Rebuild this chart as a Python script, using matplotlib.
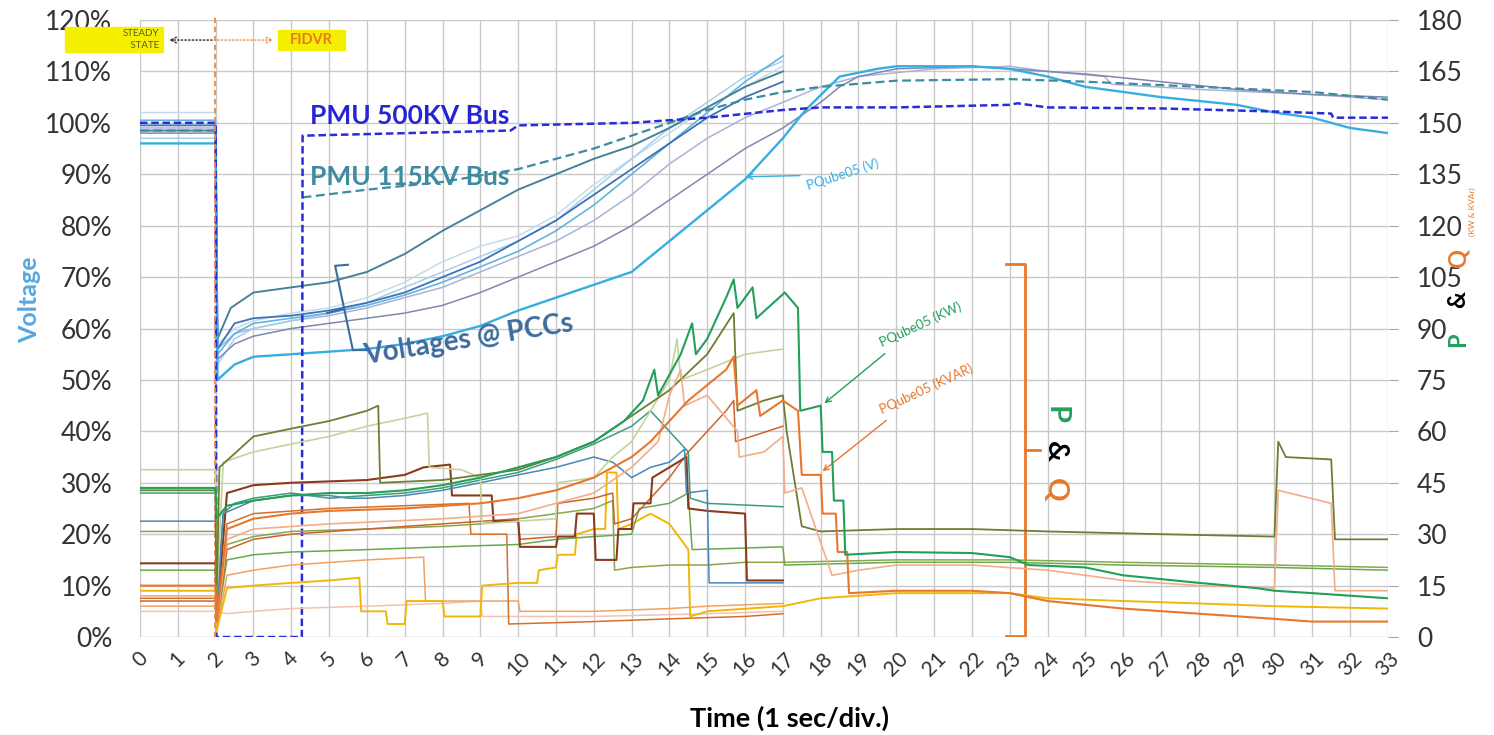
import matplotlib.pyplot as plt
from matplotlib.patches import Rectangle

plt.rcParams['font.family'] = ['Lato', 'DejaVu Sans']

# ---- time axis (1 sec / div) ----
time_ticks = list(range(34))

# ---- voltages, % of nominal (left axis) ----
pmu_500kv = [(0, 100), (2, 100), (2.02, 0), (4.28, 0), (4.3, 97.5), (9.8, 98.5), (10, 99.5), (13, 100),
             (15, 101), (17, 102.5), (18, 103), (20, 103), (23, 103.5), (23.2, 103.8), (24, 103),
             (27, 102.8), (30, 102.2), (31.5, 101.8), (31.55, 101), (33, 101)]
pmu_115kv = [(0, 98.5), (2, 98.5), (2.02, float('nan')), (4.3, 85.5), (6, 87), (8, 88.5), (10, 91),
             (11, 93), (12, 95), (13, 97.5), (14, 100), (15, 102.5), (16, 104.5), (17, 106), (18, 107),
             (20, 108.2), (23, 108.5), (25, 108), (28, 107), (31, 106), (33, 104.5)]
pcc_v1 = [(0, 98.5), (2, 98.5), (2.05, 58), (2.4, 64), (3, 67), (4, 68), (5, 69), (6, 71), (7, 74.5),
          (8, 79), (9, 83), (10, 87), (11, 90), (12, 93), (13, 95.5), (14, 99), (15, 103), (16, 107), (17, 110)]
pcc_v2 = [(0, 99.5), (2, 99.5), (2.05, 56), (2.5, 61), (3, 62), (4, 62.5), (5, 63.5), (6, 65), (7, 67),
          (8, 70), (9, 73), (10, 77), (11, 81), (12, 86), (13, 91), (14, 96), (15, 101), (16, 105), (17, 108)]
pcc_v3 = [(0, 97), (2, 97), (2.05, 53), (2.5, 58), (3, 60), (4, 61.5), (5, 63), (6, 65), (7, 68), (8, 71),
          (9, 74), (10, 77), (11, 81), (12, 87), (13, 93), (14, 99), (15, 104), (16, 109), (17, 112)]
pcc_v4 = [(0, 100.5), (2, 100.5), (2.05, 55), (2.5, 59), (3, 61), (4, 62), (5, 63), (6, 64.5), (7, 66.5),
          (8, 69), (9, 72), (10, 75), (11, 79), (12, 84), (13, 90), (14, 96), (15, 102), (16, 108), (17, 113)]
pcc_v5 = [(0, 102), (2, 102), (2.05, 57), (2.5, 60), (3, 61.5), (4, 63), (5, 64), (6, 66), (7, 69), (8, 73),
          (9, 76), (10, 78), (11, 82), (12, 88), (13, 93), (14, 98), (15, 103), (16, 107), (17, 111)]
pcc_v6 = [(0, 98), (2, 98), (2.05, 54), (2.5, 57), (3, 58.5), (4, 60), (5, 61), (6, 62), (7, 63), (8, 64.5),
          (9, 67), (10, 70), (11, 73), (12, 76), (13, 80), (14, 85), (15, 90), (16, 95), (17, 99), (18, 104),
          (18.5, 107), (19, 109), (20, 110.5), (22, 111), (23, 110.5), (25, 109.5), (27, 108), (29, 106.5),
          (31, 105.5), (33, 105)]
pcc_v7 = [(0, 99), (2, 99), (2.05, 56), (2.5, 59), (3, 60), (4, 61.5), (5, 62.5), (6, 64), (7, 66), (8, 68),
          (9, 71), (10, 74), (11, 77), (12, 81), (13, 86), (14, 92), (15, 97), (16, 101), (17, 104), (18, 107),
          (19, 109), (21, 110.5), (23, 111), (24, 110), (25.5, 109), (25.7, 107.5), (28, 106.5), (31, 105.5),
          (33, 104.5)]
pqube05_v = [(0, 96), (2, 96), (2.05, 50), (2.5, 53), (3, 54.5), (4, 55), (5, 55.5), (6, 56), (7, 57),
             (8, 58.5), (9, 60.5), (10, 63.5), (11, 66), (12, 68.5), (13, 71), (14, 77), (15, 83), (16, 89),
             (17, 97), (17.6, 102.5), (18.5, 109), (19.5, 110.5), (20, 111), (22, 111), (23, 110.5), (24, 109),
             (25, 107), (27, 105), (29, 103.5), (30, 102), (31, 101), (32, 99), (33, 98)]

# ---- P & Q, kW / kVAR (right axis) ----
pqube05_kw = [(0, 43.5), (2, 43.5), (2.02, 34.5), (2.3, 38.3), (3, 39.8), (4, 41.3), (5, 42), (6, 42),
              (7, 42.8), (8, 44.3), (9, 46.5), (10, 49.5), (11, 52.5), (12, 57), (12.8, 63), (13.3, 69),
              (13.6, 78), (13.7, 70.5), (14.3, 82.5), (14.6, 91.5), (14.7, 82.5), (15, 87), (15.5, 99),
              (15.7, 104.3), (15.8, 96), (16.2, 102), (16.3, 93), (16.9, 99), (17.05, 100.5), (17.4, 96),
              (17.46, 66), (18, 67.5), (18.05, 54), (18.3, 54), (18.35, 39.8), (18.6, 39.8), (18.65, 24),
              (20, 24.8), (22, 24.5), (23, 23.3), (23.5, 21), (25, 20.3), (26, 18), (28, 15.8), (29.5, 14.3),
              (30, 13.5), (31, 12.8), (33, 11.3)]
pqube05_kvar = [(0, 15), (2, 15), (2.02, 4.5), (2.3, 31.5), (3, 34.5), (4, 36), (5, 36.8), (7, 37.5),
                (9, 39), (10, 40.5), (11, 42.8), (12, 46.5), (13, 52.5), (13.5, 57), (14, 63), (14.5, 69),
                (15, 73.5), (15.5, 78), (15.7, 81.8), (15.8, 67.5), (16.3, 72), (16.4, 64.5), (17, 69),
                (17.4, 66), (17.5, 47.3), (18, 47.3), (18.05, 36), (18.4, 36), (18.45, 24.8), (18.7, 24.8),
                (18.75, 12.8), (20, 13.5), (22, 13.5), (23, 12.8), (24, 10.5), (26, 8.3), (28, 6.8),
                (30, 5.3), (31, 4.5), (33, 4.5)]
q_salmon = [(0, 12), (2, 12), (2.02, 3), (2.3, 28.5), (3, 31.5), (5, 33), (8, 34.5), (10, 36), (12, 42),
            (13, 49.5), (13.7, 57), (14, 70.5), (14.3, 78), (14.4, 67.5), (15, 70.5), (15.8, 60), (15.85, 52.5),
            (16.5, 54), (17, 58.5), (17.05, 42), (17.5, 43.5), (18.3, 18), (19, 19.5), (20, 21), (22, 21),
            (24, 19.5), (26, 16.5), (28, 15), (30, 14.3), (30.1, 42.8), (31.5, 39), (31.6, 13.5), (33, 13.5)]
p_olive_dark = [(0, 42.8), (2, 42.8), (2.02, 7.5), (2.1, 49.5), (3, 58.5), (4, 60.8), (5, 63), (6, 66),
                (6.3, 67.5), (6.35, 45), (8, 45.8), (10, 48.8), (11, 52.5), (12, 57), (13, 64.5), (14, 72),
                (15, 82.5), (15.7, 94.5), (15.8, 66), (16.5, 69), (17, 70.5), (17.1, 60), (17.5, 32.3),
                (18, 30.8), (20, 31.5), (22, 31.5), (24, 30.8), (27, 30), (30, 29.3), (30.1, 57), (30.3, 52.5),
                (31.5, 51.8), (31.6, 28.5), (33, 28.5)]
p_olive_light = [(0, 48.8), (2, 48.8), (2.02, 9), (2.2, 51), (3, 54), (4, 56.3), (5, 58.5), (6, 61.5),
                 (7, 63.8), (7.6, 65.3), (7.65, 49.5), (8.5, 48.8), (9, 46.5), (9.05, 33), (10, 33.8),
                 (11, 34.5), (11.05, 45), (12, 46.5), (12.5, 52.5), (13, 57), (13.5, 66), (14, 75), (14.2, 87),
                 (14.3, 75), (15, 78), (16, 82.5), (17, 84)]
p_steel = [(0, 33.8), (2, 33.8), (2.02, 4.5), (2.2, 36), (3, 39.8), (4, 41.3), (5, 41.3), (5.5, 40.5),
           (6, 40.5), (7, 41.3), (8, 42.8), (9, 45), (10, 47.3), (11, 49.5), (12, 52.5), (12.5, 51), (13, 46.5),
           (13.5, 49.5), (14, 51), (14.4, 54.8), (14.45, 42), (15, 42.8), (15.05, 15.8), (17, 15.8)]
p_teal = [(0, 42), (2, 42), (2.02, 6), (2.2, 36), (2.5, 39), (3, 40.5), (4, 42), (5, 40.5), (6, 41.3),
          (7, 42), (8, 43.5), (9, 45.8), (10, 48), (11, 51.8), (12, 56.3), (13, 61.5), (13.5, 66), (14, 60),
          (14.5, 54), (14.55, 40.5), (15, 39), (17, 38)]
q_brown = [(0, 21.5), (2, 21.5), (2.02, 4.5), (2.3, 42), (3, 44.3), (4, 45), (6, 45.8), (7, 47.3),
           (7.5, 49.5), (8.2, 50.3), (8.25, 41.3), (9.3, 41.3), (9.35, 33.8), (10, 33.8), (10.05, 26.3),
           (11, 26.3), (11.05, 29.3), (11.5, 29.3), (11.55, 36), (12, 36), (12.05, 22.5), (12.6, 22.5),
           (12.65, 31.5), (13, 31.5), (13.05, 39), (13.5, 39), (13.55, 46.5), (14, 49.5), (14.45, 52.5),
           (14.5, 37.5), (15, 36.8), (16, 36), (16.05, 16.5), (17, 16.5)]
q_rust = [(0, 10.5), (2, 10.5), (2.02, 3), (2.3, 25.5), (3, 28.5), (4, 30), (6, 31.5), (8, 33), (10, 34.5),
          (10.05, 28.5), (11, 29.3), (11.05, 39), (12, 40.5), (12.5, 42), (12.55, 33), (13, 34.5),
          (13.5, 40.5), (14, 46.5), (14.5, 54), (15, 60), (15.5, 66), (15.7, 69), (15.75, 57), (17, 61.5)]
q_orange_step = [(0, 11.3), (2, 11.3), (2.02, 1.5), (2.3, 33), (3, 36), (5, 37.5), (7, 38.3), (8.7, 39),
                 (8.75, 30), (9.7, 30), (9.75, 3.8), (12, 4.5), (14, 5.3), (16, 6), (17, 6.8)]
p_green_mid = [(0, 30.8), (2, 30.8), (2.02, 3), (2.3, 27), (3, 29.3), (4, 30.8), (6, 31.5), (8, 32.3),
               (9, 33), (10, 34.5), (11, 36), (12, 37.5), (12.5, 39.8), (12.55, 19.5), (13, 20.3), (14, 21),
               (15, 21), (16, 21.8), (17, 21.8), (20, 22.5), (23, 22.5), (26, 21.8), (30, 21), (33, 20.3)]
p_green_low = [(0, 19.5), (2, 19.5), (2.02, 3), (2.3, 22.5), (3, 24), (4, 24.8), (6, 25.5), (8, 26.3),
               (10, 27), (11, 28.5), (12, 29.3), (13, 30), (13.2, 37.5), (14, 39), (14.5, 42), (14.6, 25.5),
               (17, 26.3), (17.05, 21), (20, 21.8), (23, 21.8), (26, 21), (30, 20.3), (33, 19.5)]
q_yellow = [(0, 13.5), (2, 13.5), (2.02, 1.5), (2.3, 14.3), (3, 15), (4, 15.8), (5, 16.5), (5.8, 17.3),
            (5.85, 7.5), (6.5, 7.5), (6.55, 3.8), (7, 3.8), (7.05, 10.5), (8, 10.5), (8.05, 6), (9, 6),
            (9.05, 15), (10, 15.8), (10.5, 15.8), (10.55, 19.5), (11, 20.3), (11.05, 24), (11.5, 24),
            (11.55, 30), (12, 31.5), (12.3, 31.5), (12.35, 48), (12.6, 48), (12.65, 31.5), (13, 33),
            (13.5, 36), (14, 33), (14.5, 25.5), (14.55, 6), (15, 7.5), (17, 9), (18, 11.3), (20, 12.8),
            (23, 12.8), (24, 11.3), (26, 10.5), (28, 9.8), (30, 9), (33, 8.3)]
q_light_orange = [(0, 9), (2, 9), (2.02, 1.5), (2.3, 18), (3, 19.5), (4, 21), (6, 22.5), (7.5, 23.3),
                  (7.55, 10.5), (10, 10.5), (10.05, 7.5), (12, 7.5), (14, 8.3), (15, 9), (17, 9.8)]
q_pale_pink = [(0, 7.5), (2, 7.5), (2.3, 6.8), (3, 7.5), (4, 8.3), (6, 9), (8, 9.8), (9, 10.5),
               (9.05, 6), (12, 6), (15, 6.8), (17, 7.5)]

fig, ax = plt.subplots(figsize=(14.94, 7.35), dpi=100)
fig.subplots_adjust(left=0.0937, right=0.929, bottom=0.1333, top=0.9728)
ax2 = ax.twinx()


def draw(axis, pairs, color, lw=1.2, ls='-', z=2):
    t, v = zip(*pairs)
    axis.plot(t, v, color=color, lw=lw, ls=ls, zorder=z)


# P & Q traces
for pairs, col, lw in [
    (q_pale_pink, '#f2c2b2', 1.1), (q_light_orange, '#efa263', 1.1), (q_orange_step, '#d4702e', 1.1),
    (q_yellow, '#f2b705', 1.4), (p_green_low, '#6aa84f', 1.1), (p_green_mid, '#8aa64a', 1.1),
    (q_rust, '#c9652c', 1.1), (q_brown, '#8a3b1e', 1.5), (p_teal, '#3c9c7c', 1.1),
    (p_steel, '#4a86b8', 1.1), (p_olive_light, '#c5d49c', 1.2), (p_olive_dark, '#6e7d34', 1.3),
    (q_salmon, '#f3ad88', 1.2), (pqube05_kvar, '#e8772e', 1.5), (pqube05_kw, '#22a05a', 1.5),
]:
    draw(ax2, pairs, col, lw)

# voltage traces
for pairs, col, lw in [
    (pcc_v5, '#c3dbee', 1.1), (pcc_v7, '#aab3d4', 1.1), (pcc_v3, '#a4d0ee', 1.1), (pcc_v4, '#62b4e0', 1.2),
    (pcc_v6, '#7f88ae', 1.1), (pcc_v2, '#3f72b5', 1.3), (pcc_v1, '#46829a', 1.4), (pqube05_v, '#36aee2', 1.7),
]:
    draw(ax, pairs, col, lw)
draw(ax, pmu_115kv, '#3c8ba0', 1.6, (0, (4, 2)), 3)
draw(ax, pmu_500kv, '#2b2bd9', 1.8, (0, (3, 1.5)), 3)

# axes styling
ax.set_xlim(0, 33)
ax.set_ylim(0, 120)
ax2.set_ylim(0, 180)
ax.set_xticks(time_ticks)
ax.set_xticklabels([str(t) for t in time_ticks], rotation=45, ha='center', fontsize=15, color='#333333')
ax.set_yticks(range(0, 121, 10))
ax.set_yticklabels([f'{v}%' for v in range(0, 121, 10)], fontsize=19, color='#333333')
ax2.set_yticks(range(0, 181, 15))
ax2.set_yticklabels([str(v) for v in range(0, 181, 15)], fontsize=19, color='#333333')
ax.tick_params(axis='y', length=0, pad=20)
ax.tick_params(axis='x', length=0, pad=8)
ax2.tick_params(axis='y', length=7, color='#aaaaaa', pad=14)
ax.grid(color='#c8c8c8', lw=1)
ax.set_axisbelow(True)
for a in (ax, ax2):
    for s in a.spines.values():
        s.set_visible(False)

# event markers
ax.plot([1.98, 1.98], [0, 121], color='#ef8a3c', lw=1.3, ls=(0, (3, 2)), clip_on=False, zorder=4)
ax.add_patch(Rectangle((-1.98, 113.8), 2.59, 4.9, color='#f5f000', clip_on=False, zorder=5))
ax.text(0.5, 116.2, 'STEADY\n   STATE', fontsize=7, ha='right', va='center', color='#5a5a30',
        linespacing=1.3, zorder=6, clip_on=False)
ax.add_patch(Rectangle((3.65, 114.2), 1.77, 3.9, color='#f5f000', clip_on=False, zorder=5))
ax.text(4.53, 116.1, 'FIDVR', fontsize=10.5, fontweight='bold', ha='center', va='center', color='#e8781e',
        zorder=6)
ax.annotate('', xy=(0.7, 116.1), xytext=(1.98, 116.1),
            arrowprops=dict(arrowstyle='->', color='#222222', lw=1, ls=':'), annotation_clip=False)
ax.annotate('', xy=(3.6, 116.1), xytext=(1.98, 116.1),
            arrowprops=dict(arrowstyle='->', color='#ef8a3c', lw=1, ls=':'), annotation_clip=False)

# labels inside the plot
ax.text(4.5, 101.3, 'PMU 500KV Bus', fontsize=19, fontweight='bold', color='#2525d4', va='center')
ax.text(4.5, 89.5, 'PMU 115KV Bus', fontsize=19, fontweight='bold', color='#3c8ba0', va='center')
ax.text(8.7, 57.8, 'Voltages @ PCCs', fontsize=20, fontweight='bold', color='#3d6b9e', ha='center',
        va='center', rotation=9)
ax.plot([5.5, 5.16, 5.63, 5.98], [72.4, 72.2, 55.8, 55.8], color='#3d6b9e', lw=1.5)
ax.plot([5.37, 4.95], [63.8, 63.0], color='#3d6b9e', lw=1.5)

ax.annotate('PQube05 (V)', xy=(15.95, 89.5), xytext=(17.6, 86.5), fontsize=9.5, color='#36aee2',
            rotation=18, va='bottom', arrowprops=dict(arrowstyle='->', color='#36aee2', lw=1))
ax.annotate('PQube05 (KW)', xy=(18.04, 45.1), xytext=(19.5, 56.0), fontsize=9.5, color='#22a05a',
            rotation=25, va='bottom', arrowprops=dict(arrowstyle='->', color='#22a05a', lw=1))
ax.annotate('PQube05 (KVAR)', xy=(17.99, 31.9), xytext=(19.5, 43.0), fontsize=9.5, color='#e8772e',
            rotation=25, va='bottom', arrowprops=dict(arrowstyle='->', color='#e8772e', lw=1))

ax.plot([22.9, 23.4, 23.4, 22.9], [72.6, 72.6, 0.2, 0.2], color='#e8782a', lw=2, zorder=4)
ax.plot([23.4, 23.8], [36.4, 36.4], color='#e8782a', lw=2, zorder=4)
ax.text(24.2, 43.2, 'P', fontsize=21, fontweight='bold', color='#22a05a', rotation=-90, ha='center', va='center')
ax.text(24.2, 36.0, '&', fontsize=21, fontweight='bold', color='black', rotation=-90, ha='center', va='center')
ax.text(24.2, 28.6, 'Q', fontsize=21, fontweight='bold', color='#e8782a', rotation=-90, ha='center', va='center')

# axis titles
fig.text(30 / 1494, 1 - 300 / 735, 'Voltage', fontsize=18, fontweight='bold', color='#55a8e0',
         rotation=90, ha='center', va='center')
fig.text(790 / 1494, 1 - 718 / 735, 'Time (1 sec/div.)', fontsize=19.5, fontweight='bold', color='black',
         ha='center', va='center')
fig.text(1458 / 1494, 1 - 340 / 735, 'P', fontsize=17, fontweight='bold', color='#22a05a', rotation=90,
         ha='center', va='center')
fig.text(1458 / 1494, 1 - 299 / 735, '&', fontsize=17, fontweight='bold', color='black', rotation=90,
         ha='center', va='center')
fig.text(1458 / 1494, 1 - 258 / 735, 'Q', fontsize=17, fontweight='bold', color='#e8782a', rotation=90,
         ha='center', va='center')
fig.text(1472 / 1494, 1 - 212 / 735, '(KW & KVAr)', fontsize=6, color='#e8782a', rotation=90,
         ha='center', va='center')

fig.savefig('out.png', dpi=100)
